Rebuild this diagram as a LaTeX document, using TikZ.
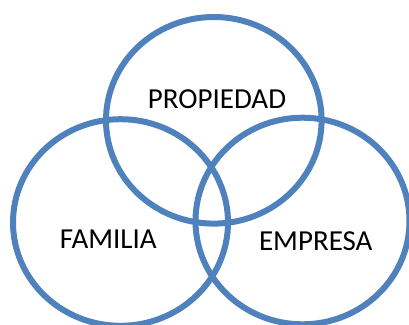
\documentclass[tikz,border=0pt]{standalone}
\usepackage{fontspec}
\setmainfont{Carlito}
\definecolor{ringblue}{HTML}{4F81BD}
\begin{document}
\begin{tikzpicture}[x=1pt,y=-1pt,
  ring/.style={draw=ringblue,line width=6pt},
  label/.style={font=\fontsize{29}{34}\selectfont,anchor=base,inner sep=0pt}]
  \useasboundingbox (0,0) rectangle (409,324);
  % the three overlapping sets
  \draw[ring] (213.8,120.3) ellipse [x radius=107.8, y radius=103.3];
  \draw[ring] (120.5,222.5) ellipse [x radius=107.5, y radius=103.3];
  \draw[ring] (302.5,221) ellipse [x radius=107, y radius=103.3];
  % set names
  \node[label] (propiedad) at (217,108) {PROPIEDAD};
  \node[label] (familia) at (108.3,248) {FAMILIA};
  \node[label] (empresa) at (315.8,250) {EMPRESA};
\end{tikzpicture}
\end{document}
